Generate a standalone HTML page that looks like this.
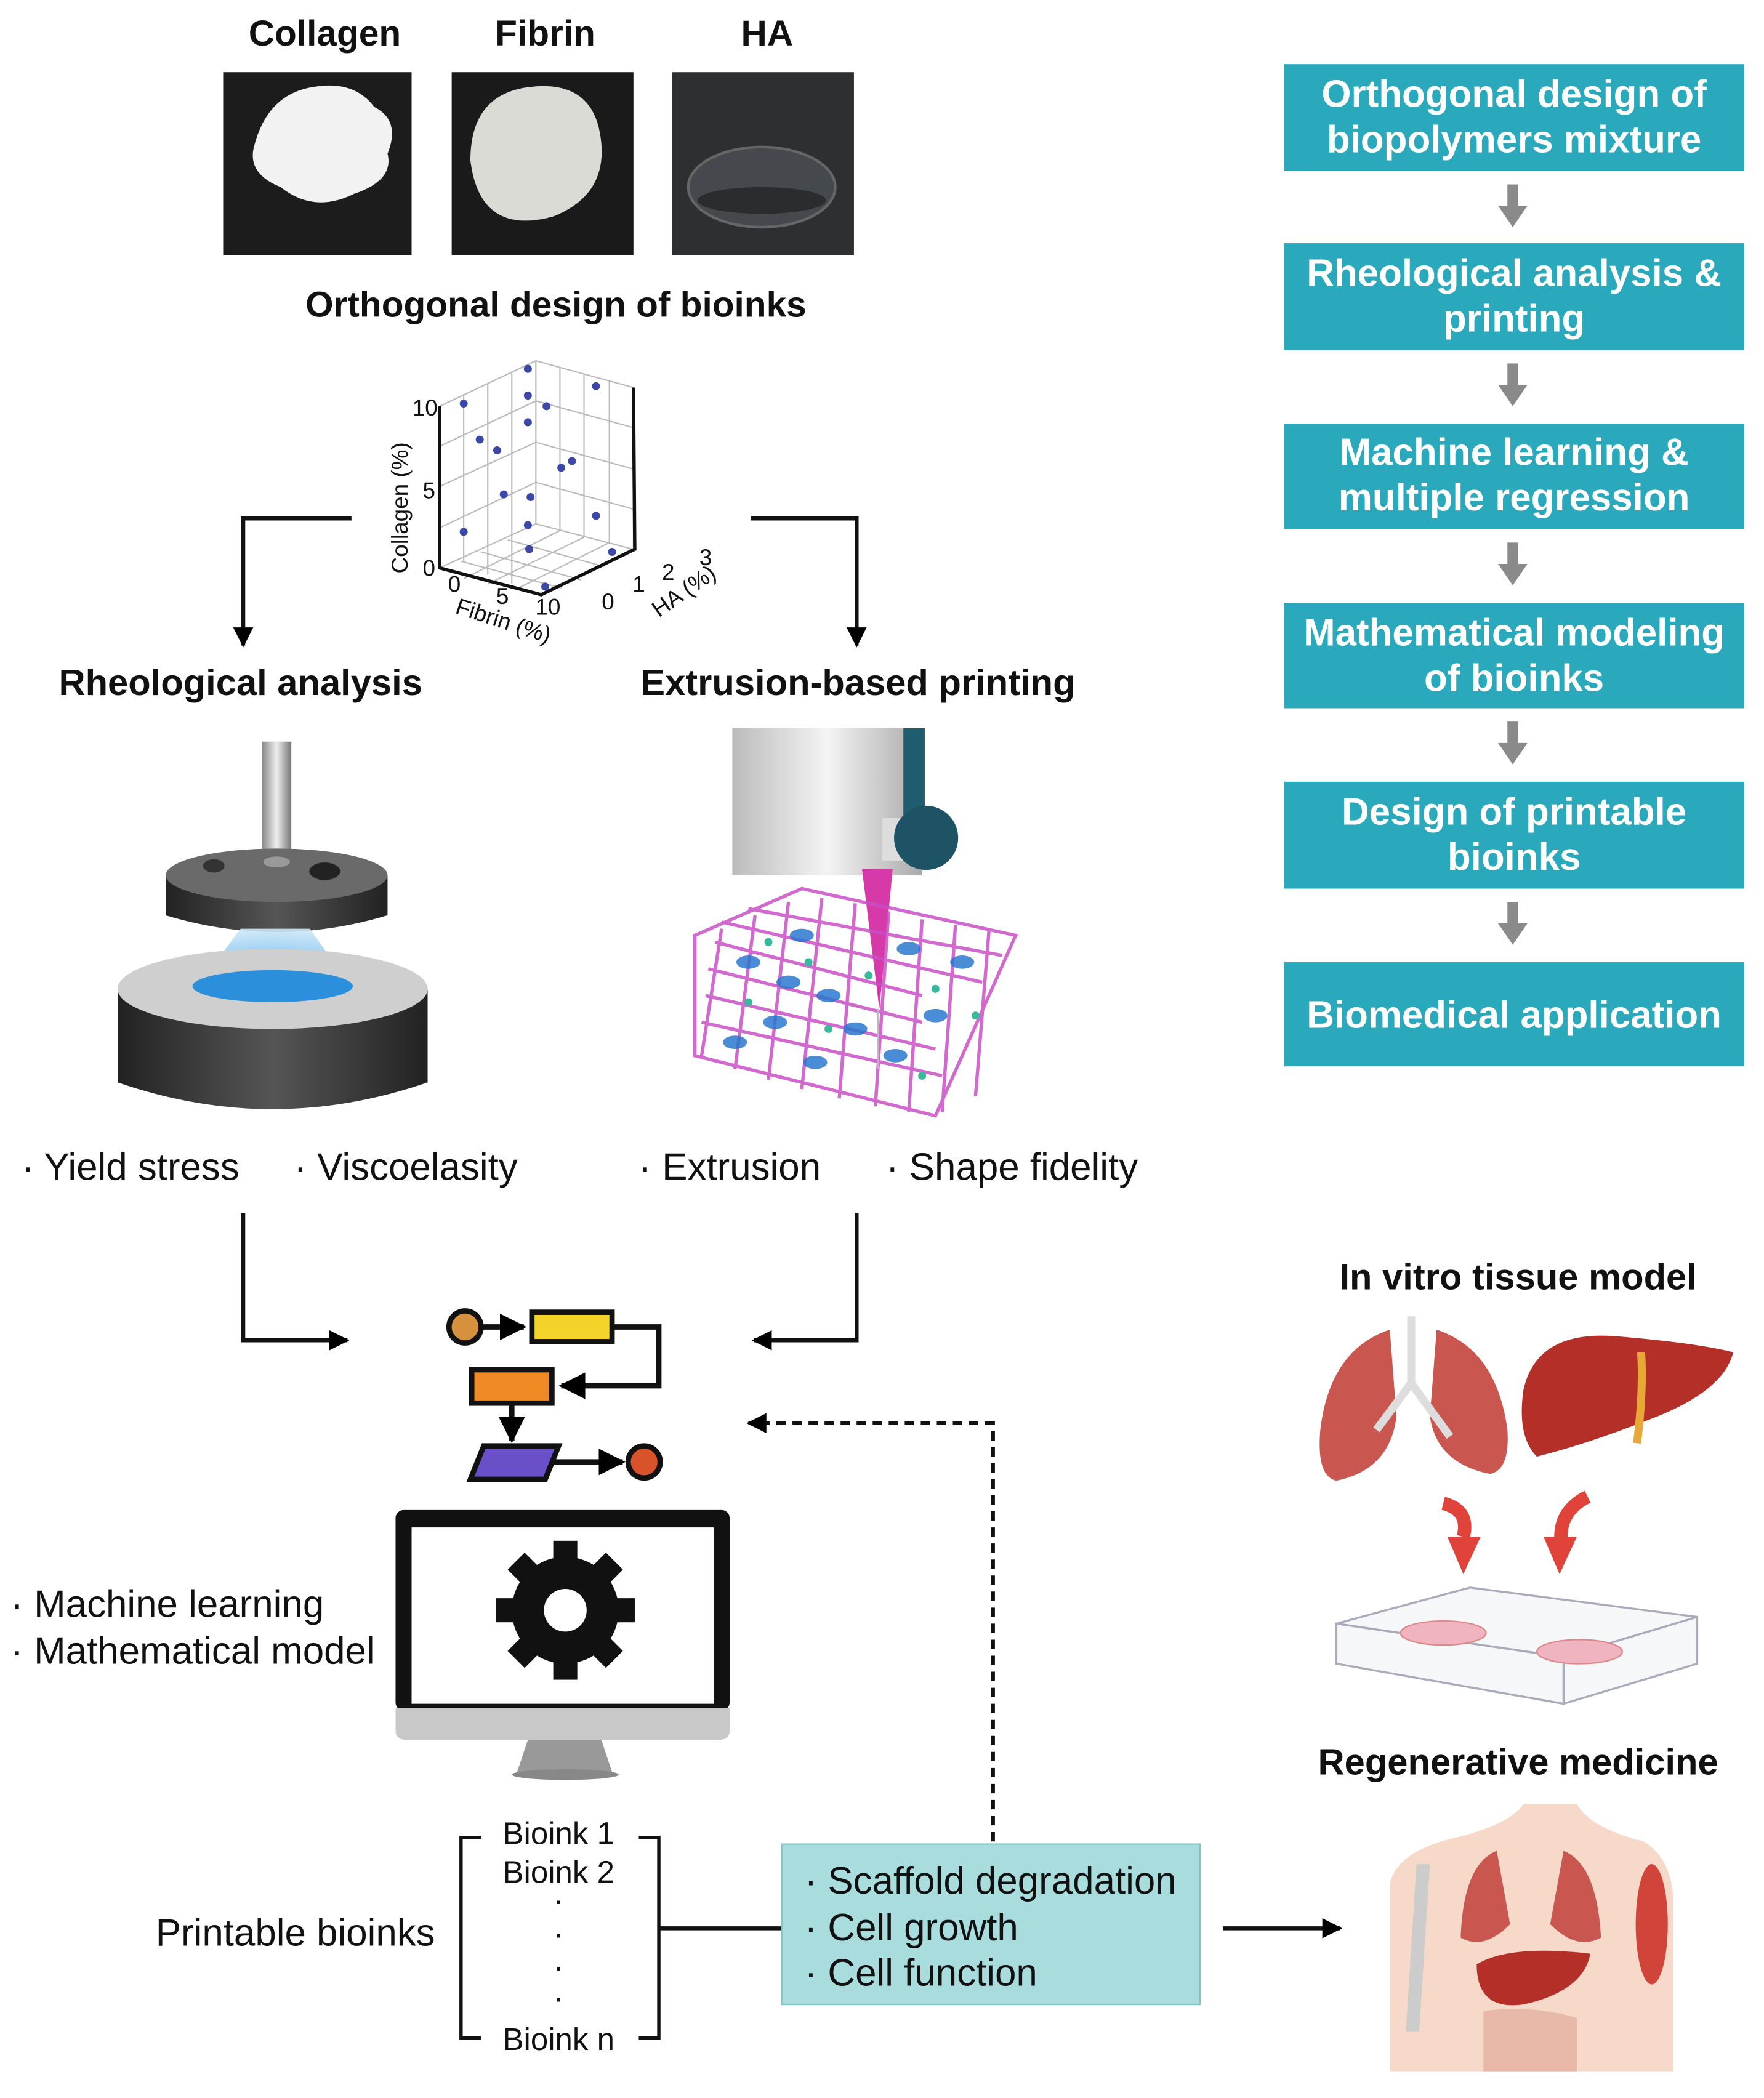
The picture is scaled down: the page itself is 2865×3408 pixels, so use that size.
<!DOCTYPE html>
<html><head><meta charset="utf-8"><style>
html,body{margin:0;padding:0;background:#fff}
svg{display:block}
text{font-family:"Liberation Sans",Arial,sans-serif}
</style></head><body>
<svg width="2865" height="3408" viewBox="0 0 1320 1570" preserveAspectRatio="none" xmlns="http://www.w3.org/2000/svg">
<defs>
<marker id="ah" viewBox="0 0 10 10" refX="9" refY="5" markerWidth="5" markerHeight="5" orient="auto"><path d="M0,0 L10,5 L0,10 z" fill="#000"/></marker>
<linearGradient id="pole" x1="0" x2="1"><stop offset="0" stop-color="#888"/><stop offset=".5" stop-color="#eee"/><stop offset="1" stop-color="#777"/></linearGradient>
<linearGradient id="blk" x1="0" x2="1"><stop offset="0" stop-color="#bbb"/><stop offset=".5" stop-color="#f4f4f4"/><stop offset="1" stop-color="#aaa"/></linearGradient>
<linearGradient id="dark" x1="0" x2="1"><stop offset="0" stop-color="#222"/><stop offset=".5" stop-color="#555"/><stop offset="1" stop-color="#222"/></linearGradient>
<radialGradient id="blue" cx=".5" cy="1" r="1"><stop offset="0" stop-color="#3aa0e8"/><stop offset="1" stop-color="#cfe8f8"/></radialGradient>
</defs>

<!-- Photos -->
<g font-weight="bold" font-size="27" text-anchor="middle" fill="#111">
<text x="243" y="34">Collagen</text><text x="408" y="34">Fibrin</text><text x="574" y="34">HA</text>
<text x="416" y="237">Orthogonal design of bioinks</text>
</g>
<rect x="167" y="54" width="141" height="137" fill="#1c1c1c"/>
<path d="M190,110 q10,-40 45,-45 q30,-5 45,15 q20,10 10,35 q5,20 -25,30 q-30,15 -55,-5 q-25,-10 -20,-30z" fill="#f2f2f2"/>
<rect x="338" y="54" width="136" height="137" fill="#1a1a1a"/>
<path d="M352,120 q0,-50 45,-55 q45,-5 52,35 q8,45 -35,62 q-55,15 -62,-42z" fill="#d9dbd4"/>
<rect x="503" y="54" width="136" height="137" fill="#2e2f31"/>
<ellipse cx="570" cy="140" rx="55" ry="30" fill="#45484c" stroke="#666" stroke-width="2"/>
<ellipse cx="570" cy="150" rx="48" ry="10" fill="#2a2c2e"/>

<!-- 3D plot -->
<g stroke="#bbb" stroke-width="1" fill="none">
<path d="M329,304 L401,270 L474,290 L474,411 L401,392 L329,425"/>
<path d="M401,270 L401,392 M347,295 L347,420 M365,287 L365,430 M383,279 L383,437 M419,275 L419,397 M437,280 L437,402 M456,285 L456,406"/>
<path d="M329,334 L401,300 L474,320 M329,364 L401,331 L474,351 M329,395 L401,361 L474,381"/>
<path d="M347,433 L419,397 M365,437 L437,402 M386,441 L456,406 M345,420 L420,440 M360,413 L435,434 M380,404 L452,424"/>
</g>
<g stroke="#111" stroke-width="2.5" fill="none"><path d="M329,304 L329,425 L405,445 L475,411 L474,290"/></g>
<g font-size="17" fill="#111" text-anchor="middle">
<text x="318" y="311">10</text><text x="321" y="373">5</text><text x="321" y="431">0</text>
<text x="340" y="443">0</text><text x="376" y="452">5</text><text x="410" y="460">10</text>
<text x="455" y="456">0</text><text x="478" y="443">1</text><text x="500" y="434">2</text><text x="528" y="423">3</text>
<text transform="translate(305,380) rotate(-90)">Collagen (%)</text>
<text transform="translate(375,470) rotate(18)">Fibrin (%)</text>
<text transform="translate(515,447) rotate(-35)">HA (%)</text>
</g>
<g fill="#3b48a8">
<circle cx="347" cy="302" r="3"/><circle cx="395" cy="276" r="3"/><circle cx="395" cy="296" r="3"/><circle cx="409" cy="304" r="3"/><circle cx="395" cy="316" r="3"/><circle cx="446" cy="289" r="3"/><circle cx="359" cy="329" r="3"/><circle cx="372" cy="337" r="3"/><circle cx="428" cy="345" r="3"/><circle cx="420" cy="350" r="3"/><circle cx="377" cy="370" r="3"/><circle cx="397" cy="372" r="3"/><circle cx="446" cy="386" r="3"/><circle cx="395" cy="393" r="3"/><circle cx="347" cy="398" r="3"/><circle cx="396" cy="411" r="3"/><circle cx="458" cy="413" r="3"/><circle cx="408" cy="439" r="3"/>
</g>

<!-- connectors -->
<g stroke="#111" stroke-width="3" fill="none">
<path d="M263,388 L182,388 L182,483" marker-end="url(#ah)"/>
<path d="M562,388 L641,388 L641,483" marker-end="url(#ah)"/>
<path d="M182,908 L182,1003 L260,1003" marker-end="url(#ah)"/>
<path d="M641,908 L641,1003 L564,1003" marker-end="url(#ah)"/>
</g>
<g font-weight="bold" font-size="27.5" text-anchor="middle" fill="#111">
<text x="180" y="520">Rheological analysis</text>
<text x="642" y="520">Extrusion-based printing</text>
</g>

<!-- rheometer -->
<rect x="196" y="555" width="22" height="90" fill="url(#pole)"/>
<path d="M124,655 L124,685 Q207,710 290,685 L290,655 z" fill="url(#dark)"/>
<ellipse cx="207" cy="655" rx="83" ry="20" fill="#6a6a6a"/>
<ellipse cx="207" cy="645" rx="10" ry="4" fill="#999"/>
<ellipse cx="160" cy="648" rx="8" ry="5" fill="#333"/><ellipse cx="243" cy="652" rx="12" ry="7" fill="#222" stroke="#666"/>
<path d="M180,695 L232,695 L262,738 L148,738z" fill="url(#blue)" opacity=".9"/>
<path d="M88,740 L88,810 Q204,850 320,810 L320,740z" fill="url(#dark)"/>
<ellipse cx="204" cy="740" rx="116" ry="30" fill="#cfcfcf"/>
<ellipse cx="204" cy="738" rx="60" ry="12" fill="#2b8fdc"/>

<!-- printer -->
<rect x="548" y="545" width="142" height="110" fill="url(#blk)"/>
<rect x="676" y="545" width="16" height="80" fill="#1f5c6e"/>
<rect x="660" y="612" width="30" height="32" fill="#ddd"/>
<circle cx="693" cy="627" r="24" fill="#1e5366"/>
<path d="M645,650 L668,650 L658,755z" fill="#d63aa8"/>
<g stroke="#c94fc6" stroke-width="2.5" fill="none" opacity=".85">
<path d="M520,700 L600,665 L760,700 L700,835 L520,790z"/>
<path d="M535,705 L690,745 M530,725 L690,765 M528,745 L700,785 M525,765 L705,805 M540,690 L735,735 M560,680 L750,715"/>
<path d="M540,695 L525,790 M565,685 L550,800 M590,675 L575,808 M615,672 L600,815 M640,676 L628,822 M665,682 L655,828 M690,688 L680,832 M715,692 L705,832 M740,697 L730,820"/>
</g>
<g fill="#2b78d0" opacity=".85">
<ellipse cx="560" cy="720" rx="9" ry="5"/><ellipse cx="590" cy="735" rx="9" ry="5"/><ellipse cx="620" cy="745" rx="9" ry="5"/><ellipse cx="580" cy="765" rx="9" ry="5"/><ellipse cx="640" cy="770" rx="9" ry="5"/><ellipse cx="700" cy="760" rx="9" ry="5"/><ellipse cx="720" cy="720" rx="9" ry="5"/><ellipse cx="670" cy="790" rx="9" ry="5"/><ellipse cx="610" cy="795" rx="9" ry="5"/><ellipse cx="550" cy="780" rx="9" ry="5"/><ellipse cx="680" cy="710" rx="9" ry="5"/><ellipse cx="600" cy="700" rx="9" ry="5"/>
</g>
<g fill="#39b89a"><circle cx="575" cy="705" r="3"/><circle cx="605" cy="720" r="3"/><circle cx="650" cy="730" r="3"/><circle cx="700" cy="740" r="3"/><circle cx="560" cy="750" r="3"/><circle cx="620" cy="770" r="3"/><circle cx="690" cy="805" r="3"/><circle cx="730" cy="760" r="3"/></g>
<line x1="657" y1="755" x2="657" y2="800" stroke="#bbb" stroke-width="1"/>

<!-- bullets -->
<g font-size="28.5" fill="#111">
<text x="16" y="883">· Yield stress</text><text x="220" y="883">· Viscoelasity</text>
<text x="478" y="883">· Extrusion</text><text x="663" y="883">· Shape fidelity</text>
<text x="8" y="1210">· Machine learning</text><text x="8" y="1245">· Mathematical model</text>
</g>

<!-- flowchart icon -->
<g stroke="#111" stroke-width="4" fill="none">
<path d="M360,993 L392,993" marker-end="url(#ah)"/>
<path d="M458,993 L493,993 L493,1037 L420,1037" marker-end="url(#ah)"/>
<path d="M383,1050 L383,1078" marker-end="url(#ah)"/>
<path d="M413,1094 L466,1094" marker-end="url(#ah)"/>
</g>
<circle cx="348" cy="993" r="12" fill="#d5913e" stroke="#111" stroke-width="4"/>
<rect x="398" y="982" width="60" height="22" fill="#f3d22a" stroke="#111" stroke-width="4"/>
<rect x="353" y="1025" width="60" height="25" fill="#f08a24" stroke="#111" stroke-width="4"/>
<path d="M362,1082 L418,1082 L408,1107 L352,1107z" fill="#6a50c8" stroke="#111" stroke-width="4"/>
<circle cx="482" cy="1094" r="12" fill="#d8532a" stroke="#111" stroke-width="4"/>

<path d="M743,1378 L743,1065 L560,1065" stroke="#111" stroke-width="3" stroke-dasharray="7,5" fill="none" marker-end="url(#ah)"/>

<!-- monitor -->
<rect x="296" y="1130" width="250" height="150" rx="6" fill="#111"/>
<rect x="308" y="1143" width="226" height="132" fill="#fff"/>
<path d="M296,1278 L546,1278 L546,1295 Q546,1302 538,1302 L304,1302 Q296,1302 296,1295z" fill="#c8c8c8"/>
<path d="M395,1302 L450,1302 L458,1326 L387,1326z" fill="#999"/>
<ellipse cx="423" cy="1328" rx="40" ry="4" fill="#888"/>
<g transform="translate(423,1205)">
<g fill="#111">
<rect x="-9" y="-52" width="18" height="104"/><rect x="-9" y="-52" width="18" height="104" transform="rotate(45)"/><rect x="-9" y="-52" width="18" height="104" transform="rotate(90)"/><rect x="-9" y="-52" width="18" height="104" transform="rotate(135)"/>
<circle r="40"/></g>
<circle r="16" fill="#fff"/>
</g>

<!-- bioinks -->
<g font-size="23.5" fill="#111" text-anchor="middle">
<text x="418" y="1380">Bioink 1</text><text x="418" y="1409">Bioink 2</text>
<text x="418" y="1430">·</text><text x="418" y="1455">·</text><text x="418" y="1480">·</text><text x="418" y="1503">·</text>
<text x="418" y="1534">Bioink n</text>
</g>
<g stroke="#111" stroke-width="2.5" fill="none">
<path d="M360,1375 L345,1375 L345,1525 L360,1525"/>
<path d="M478,1375 L493,1375 L493,1525 L478,1525"/>
</g>
<text x="221" y="1456" font-size="28.5" text-anchor="middle" fill="#111">Printable bioinks</text>
<line x1="493" y1="1443" x2="585" y2="1443" stroke="#111" stroke-width="3"/>
<rect x="585" y="1380" width="313" height="120" fill="#a9dcdc" stroke="#7fc3c5" stroke-width="1"/>
<g font-size="28.5" fill="#111">
<text x="602" y="1417">· Scaffold degradation</text><text x="602" y="1452">· Cell growth</text><text x="602" y="1486">· Cell function</text>
</g>
<path d="M915,1443 L1003,1443" stroke="#111" stroke-width="3" marker-end="url(#ah)"/>

<!-- right boxes -->
<g fill="#2aa9bd">
<rect x="961" y="48" width="344" height="80"/><rect x="961" y="182" width="344" height="80"/><rect x="961" y="317" width="344" height="79"/><rect x="961" y="451" width="344" height="79"/><rect x="961" y="585" width="344" height="80"/><rect x="961" y="720" width="344" height="78"/>
</g>
<g font-weight="bold" font-size="28.5" fill="#fff" text-anchor="middle">
<text x="1133" y="80">Orthogonal design of</text><text x="1133" y="114">biopolymers mixture</text>
<text x="1133" y="214">Rheological analysis &amp;</text><text x="1133" y="248">printing</text>
<text x="1133" y="348">Machine learning &amp;</text><text x="1133" y="382">multiple regression</text>
<text x="1133" y="483">Mathematical modeling</text><text x="1133" y="517">of bioinks</text>
<text x="1133" y="617">Design of printable</text><text x="1133" y="651">bioinks</text>
<text x="1133" y="769">Biomedical application</text>
</g>
<g fill="#8a8a8a">
<rect x="1128" y="138" width="8" height="18"/><path d="M1121,154 L1143,154 L1132,170z"/>
<rect x="1128" y="272" width="8" height="18"/><path d="M1121,288 L1143,288 L1132,304z"/>
<rect x="1128" y="406" width="8" height="18"/><path d="M1121,422 L1143,422 L1132,438z"/>
<rect x="1128" y="540" width="8" height="18"/><path d="M1121,556 L1143,556 L1132,572z"/>
<rect x="1128" y="675" width="8" height="18"/><path d="M1121,691 L1143,691 L1132,707z"/>
</g>

<g font-weight="bold" font-size="27.5" text-anchor="middle" fill="#111">
<text x="1136" y="965">In vitro tissue model</text>
<text x="1136" y="1328">Regenerative medicine</text>
</g>
<path d="M1040,995 Q995,1010 988,1070 Q985,1105 1000,1108 Q1040,1100 1045,1060z" fill="#c9564f"/>
<path d="M1075,995 Q1120,1010 1128,1070 Q1130,1100 1115,1103 Q1075,1095 1070,1060z" fill="#c9564f"/>
<path d="M1056,985 L1056,1035 M1056,1035 L1030,1070 M1056,1035 L1085,1075" stroke="#ddd" stroke-width="6" fill="none"/>
<path d="M1140,1040 Q1150,995 1210,1000 Q1270,1005 1297,1012 Q1290,1040 1240,1060 Q1190,1080 1150,1090 Q1135,1075 1140,1040z" fill="#b42f27"/>
<path d="M1228,1012 Q1230,1040 1225,1080" stroke="#e8a838" stroke-width="6" fill="none"/>
<path d="M1080,1125 Q1100,1130 1095,1150" stroke="#e0433a" stroke-width="10" fill="none"/>
<path d="M1083,1150 L1108,1150 L1095,1178z" fill="#e0433a"/>
<path d="M1188,1120 Q1168,1130 1168,1150" stroke="#e0433a" stroke-width="10" fill="none"/>
<path d="M1155,1150 L1180,1150 L1167,1178z" fill="#e0433a"/>
<g stroke="#aab" stroke-width="1.5" fill="#eef2f5" fill-opacity=".6">
<path d="M1000,1215 L1100,1188 L1270,1210 L1170,1240z"/>
<path d="M1000,1215 L1000,1245 L1170,1275 L1170,1240z"/>
<path d="M1170,1240 L1270,1210 L1270,1245 L1170,1275z"/>
</g>
<ellipse cx="1080" cy="1222" rx="32" ry="9" fill="#f0b3c0" stroke="#d88"/>
<ellipse cx="1182" cy="1236" rx="32" ry="9" fill="#f0b3c0" stroke="#d88"/>
<path d="M1040,1550 L1040,1410 Q1045,1385 1090,1375 Q1130,1365 1140,1350 L1180,1350 Q1190,1368 1230,1378 Q1250,1390 1252,1420 L1252,1550z" fill="#f6d9c9"/>
<path d="M1060,1395 L1070,1395 L1062,1520 L1052,1520z" fill="#ccc"/>
<ellipse cx="1236" cy="1440" rx="12" ry="45" fill="#d0443a"/>
<path d="M1120,1385 Q1095,1395 1093,1450 Q1110,1460 1130,1440z" fill="#c9564f"/>
<path d="M1170,1385 Q1195,1395 1198,1450 Q1180,1460 1160,1440z" fill="#c9564f"/>
<path d="M1105,1470 Q1130,1455 1190,1462 Q1185,1490 1140,1500 Q1105,1505 1105,1470z" fill="#b42f27"/>
<path d="M1110,1505 Q1145,1500 1180,1510 L1180,1550 L1110,1550z" fill="#e8b8a8"/>
</svg>
</body></html>
